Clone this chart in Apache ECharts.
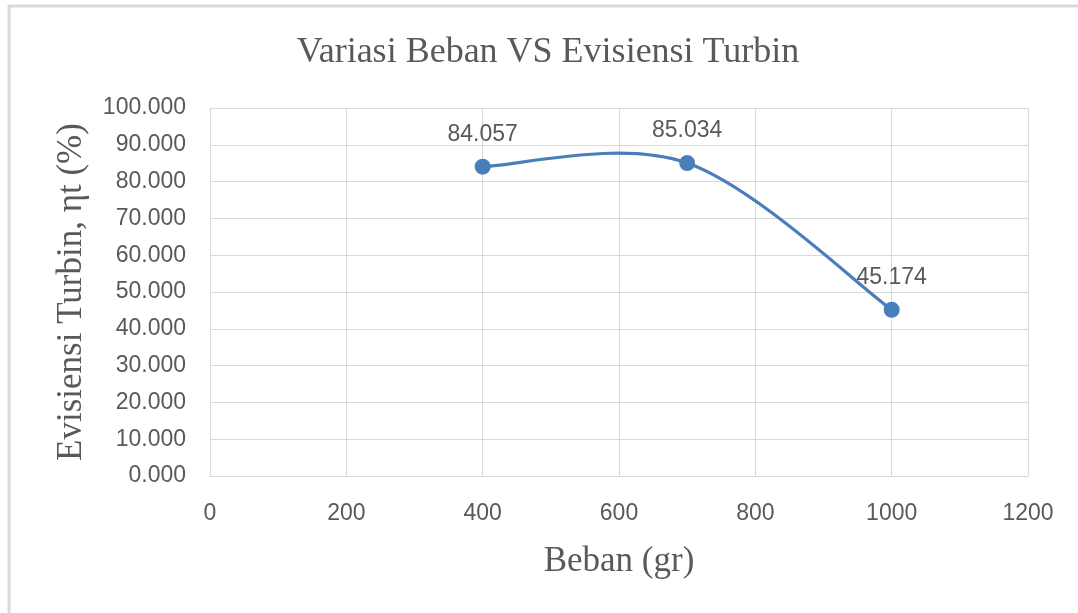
<!DOCTYPE html>
<html>
<head>
<meta charset="utf-8">
<script src="https://cdn.jsdelivr.net/npm/echarts@6/dist/echarts.min.js"></script>
<style>
  html, body { margin: 0; padding: 0; background: #fff; }
  #chart { width: 1078px; height: 613px; }
</style>
</head>
<body>
<div id="chart"></div>
<script>
// beban (gr) vs efisiensi turbin (%)
const beban = [400, 700, 1000]
const efisiensi = [84.057, 85.034, 45.174]
const xTicks = [0, 200, 400, 600, 800, 1000, 1200]
const yTicks = [0, 10, 20, 30, 40, 50, 60, 70, 80, 90, 100]

const grey = '#595959'
const gridGrey = '#d9d9d9'
const blue = '#4a7ebb'
const sans = 'Liberation Sans'
const serif = 'Liberation Serif'

const points = beban.map((b, i) => [b, efisiensi[i]])

const myChart = echarts.init(document.getElementById('chart'))

// excel style smoothed line: catmull-rom segments between the data points
const renderSmoothSegment = (params, api) => {
    const i = params.dataIndex
    if (i >= points.length - 1) {
        return null
    }
    const p = k => api.coord(points[Math.max(0, Math.min(points.length - 1, k))])
    const p0 = p(i - 1), p1 = p(i), p2 = p(i + 1), p3 = p(i + 2)
    const s = 1 / 6
    return {
        type: 'bezierCurve',
        shape: {
            x1: p1[0], y1: p1[1],
            x2: p2[0], y2: p2[1],
            cpx1: p1[0] + (p2[0] - p0[0]) * s,
            cpy1: p1[1] + (p2[1] - p0[1]) * s,
            cpx2: p2[0] - (p3[0] - p1[0]) * s,
            cpy2: p2[1] - (p3[1] - p1[1]) * s
        },
        style: { stroke: blue, lineWidth: 3.2, fill: null }
    }
}

const option = {
    animation: false,
    grid: {
        left: 210,
        right: 50,
        top: 108,
        bottom: 137,
        containLabel: false,
        outerBoundsMode: 'none'
    },
    xAxis: {
        type: 'value',
        min: xTicks[0],
        max: xTicks[xTicks.length - 1],
        interval: 200,
        name: 'Beban (gr)',
        nameLocation: 'middle',
        nameGap: 68,
        nameTextStyle: { fontFamily: serif, fontSize: 35, color: grey },
        axisLine: { show: true, lineStyle: { color: gridGrey, width: 1 } },
        axisTick: { show: false },
        axisLabel: {
            margin: 26,
            fontFamily: sans,
            fontSize: 23,
            color: grey,
            formatter: v => String(v)
        },
        splitLine: { show: true, lineStyle: { color: gridGrey, width: 1 } }
    },
    yAxis: {
        type: 'value',
        min: yTicks[0],
        max: yTicks[yTicks.length - 1],
        interval: 10,
        name: 'Evisiensi Turbin, ηt (%)',
        nameLocation: 'middle',
        nameGap: 121,
        nameTextStyle: { fontFamily: serif, fontSize: 35, color: grey },
        axisLine: { show: true, lineStyle: { color: gridGrey, width: 1 } },
        axisTick: { show: false },
        axisLabel: {
            margin: 24,
            fontFamily: sans,
            fontSize: 23,
            color: grey,
            formatter: v => v.toFixed(3)
        },
        splitLine: { show: true, lineStyle: { color: gridGrey, width: 1 } }
    },
    series: [
        {
            type: 'custom',
            renderItem: renderSmoothSegment,
            data: points,
            encode: { x: 0, y: 1 },
            z: 2
        },
        {
            type: 'scatter',
            data: points,
            symbol: 'circle',
            symbolSize: 16,
            itemStyle: { color: blue, opacity: 1 },
            z: 3,
            label: {
                show: true,
                position: 'top',
                distance: 13,
                fontFamily: sans,
                fontSize: 23,
                color: grey,
                formatter: p => p.value[1].toFixed(3)
            }
        }
    ],
    graphic: [
        {
            type: 'text',
            x: 548,
            y: 53,
            style: {
                text: 'Variasi Beban VS Evisiensi Turbin',
                font: '36px "Liberation Serif"',
                fill: grey,
                textAlign: 'center',
                textVerticalAlign: 'middle'
            }
        },
        {
            type: 'line',
            shape: { x1: 8, y1: 6, x2: 1078, y2: 6 },
            style: { stroke: gridGrey, lineWidth: 3 }
        },
        {
            type: 'line',
            shape: { x1: 9, y1: 6, x2: 9, y2: 613 },
            style: { stroke: gridGrey, lineWidth: 3 }
        }
    ]
}

myChart.setOption(option)
</script>
</body>
</html>
